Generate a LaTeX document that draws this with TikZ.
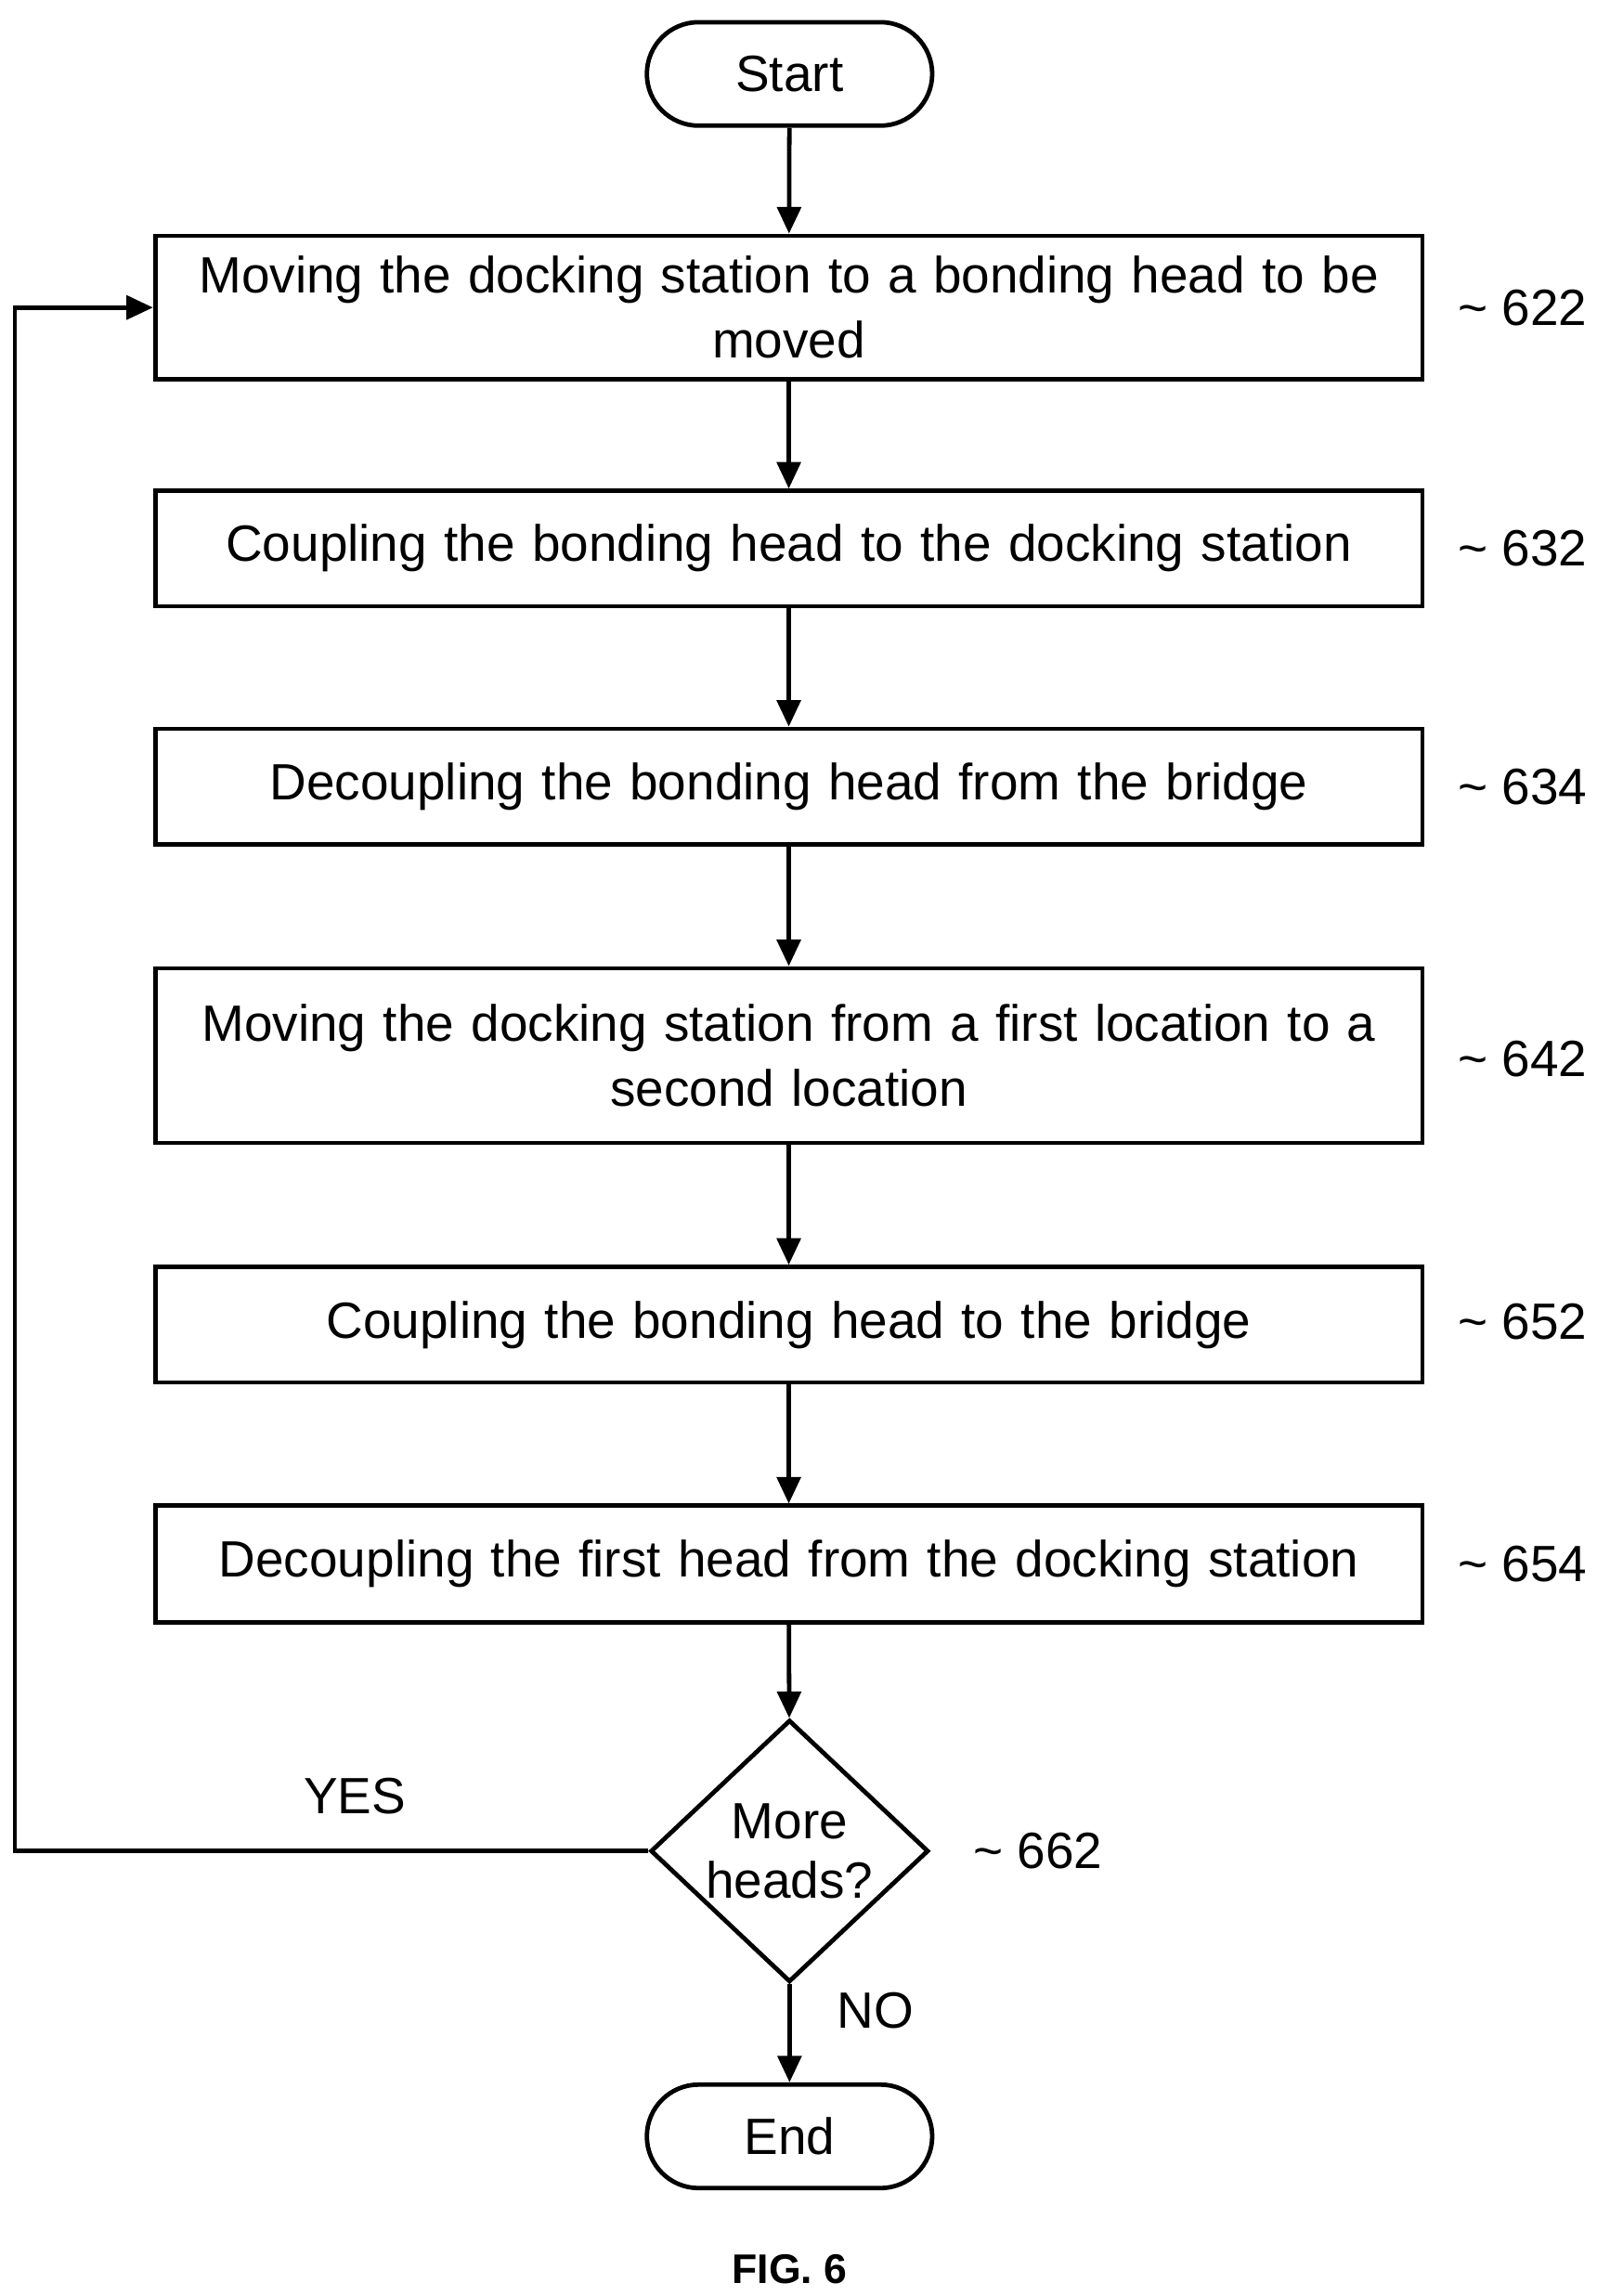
\documentclass[tikz,border=0pt]{standalone}
\usepackage{fontspec}
\setmainfont{Liberation Sans}
\usetikzlibrary{shapes.geometric,arrows.meta}
\begin{document}
\begin{tikzpicture}[x=1pt,y=-1pt,
  every node/.style={font=\fontsize{34.5}{44}\selectfont},
  box/.style={draw,line width=3pt,minimum width=857pt,align=center,inner sep=0pt,text width=850pt},
  term/.style={draw,line width=3pt,rounded corners=35pt,minimum width=193pt,minimum height=70pt},
  lab/.style={anchor=east},
  arr/.style={line width=3pt,-{Triangle[length=18pt,width=16pt]}}]
\useasboundingbox (0,0) rectangle (1080,1553);
\node[term] (s) at (534,50) {Start};
\node[box,minimum height=97pt] (b622) at (533.5,208) {Moving the docking station to a bonding head to be\\moved};
\node[box,minimum height=78pt] (b632) at (533.5,371) {Coupling the bonding head to the docking station};
\node[box,minimum height=78pt] (b634) at (533.5,532) {Decoupling the bonding head from the bridge};
\node[box,minimum height=118pt] (b642) at (533.5,714) {Moving the docking station from a first location to a\\second location};
\node[box,minimum height=78pt] (b652) at (533.5,896) {Coupling the bonding head to the bridge};
\node[box,minimum height=79pt] (b654) at (533.5,1058) {Decoupling the first head from the docking station};
\node[diamond,draw,line width=3pt,minimum width=188pt,minimum height=140pt,inner sep=0pt,align=center] (d) at (534,1252) {More\\[-4pt]heads?};
\node[term] (e) at (534,1445) {End};
\node[lab] (l622) at (1077,208) {\textasciitilde\ 622};
\node[lab] (l632) at (1077,371) {\textasciitilde\ 632};
\node[lab] (l634) at (1077,532) {\textasciitilde\ 634};
\node[lab] (l642) at (1077,716) {\textasciitilde\ 642};
\node[lab] (l652) at (1077,894) {\textasciitilde\ 652};
\node[lab] (l654) at (1077,1058) {\textasciitilde\ 654};
\node[anchor=center] (l662) at (702,1252) {\textasciitilde\ 662};
\node[anchor=center] (yes) at (240,1215) {YES};
\node[anchor=center] (no) at (592,1360) {NO};
\node[anchor=center,font=\bfseries\fontsize{28}{32}\selectfont] (fig) at (534,1535) {FIG. 6};
\draw[arr] (s) -- (b622);
\draw[arr] (b622) -- (b632);
\draw[arr] (b632) -- (b634);
\draw[arr] (b634) -- (b642);
\draw[arr] (b642) -- (b652);
\draw[arr] (b652) -- (b654);
\draw[arr] (b654) -- (d);
\draw[arr] (d) -- (e);
\coordinate (c1) at (10,1252);
\coordinate (c2) at (10,208);
\draw[arr] (d.west) -- (c1) -- (c2) -- (b622.west);
\end{tikzpicture}
\end{document}
